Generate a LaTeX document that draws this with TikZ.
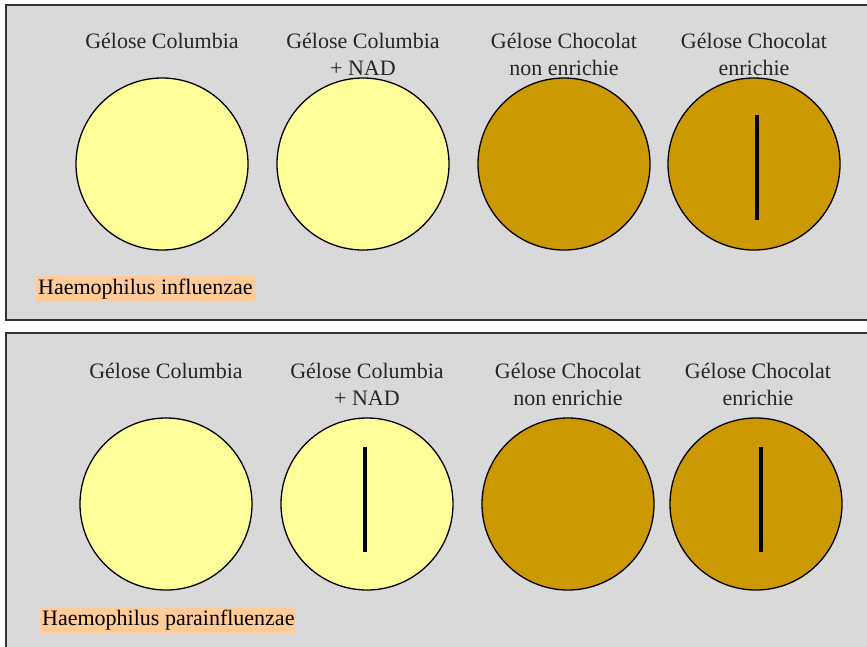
\documentclass[tikz,border=0pt]{standalone}
\usepackage{fontspec}
\setmainfont{Liberation Serif}
\definecolor{panelgray}{HTML}{D9D9D9}
\definecolor{paleyellow}{HTML}{FFFF99}
\definecolor{choco}{HTML}{CC9900}
\definecolor{peach}{HTML}{FFCC99}
\tikzset{
  panel/.style={draw=black!80, line width=1.6pt, fill=panelgray},
  plate/.style={circle, draw=black, line width=1.3pt, minimum size=172pt, inner sep=0pt},
  bar/.style={rectangle, fill=black, minimum width=4pt, minimum height=105pt, inner sep=0pt},
  lbl/.style={align=center, font=\fontsize{22}{27}\selectfont, text=black!85},
  species/.style={fill=peach, font=\fontsize{22}{24}\selectfont, inner xsep=2pt, inner ysep=3pt, anchor=west}
}
\begin{document}
\begin{tikzpicture}[x=1pt,y=-1pt]
\useasboundingbox (0,0) rectangle (867,646);
% panels
\path[panel] (6,5) rectangle (875,320);
\path[panel] (6,333) rectangle (875,655);
% top panel
\node[lbl] (t1) at (162,41) {Gélose Columbia};
\node[lbl] (t2) at (363,54) {Gélose Columbia\\+ NAD};
\node[lbl] (t3) at (564,54) {Gélose Chocolat\\non enrichie};
\node[lbl] (t4) at (754,54) {Gélose Chocolat\\enrichie};
\node[plate, fill=paleyellow] (a1) at (162,164) {};
\node[plate, fill=paleyellow] (a2) at (363,164) {};
\node[plate, fill=choco] (a3) at (564,164) {};
\node[plate, fill=choco] (a4) at (754,164) {};
\node[bar] (ba4) at (757,167) {};
\node[species] (s1) at (36,289) {Haemophilus influenzae};
% bottom panel
\node[lbl] (u1) at (166,371) {Gélose Columbia};
\node[lbl] (u2) at (367,384) {Gélose Columbia\\+ NAD};
\node[lbl] (u3) at (568,384) {Gélose Chocolat\\non enrichie};
\node[lbl] (u4) at (758,384) {Gélose Chocolat\\enrichie};
\node[plate, fill=paleyellow] (b1) at (166,504) {};
\node[plate, fill=paleyellow] (b2) at (367,504) {};
\node[plate, fill=choco] (b3) at (568,504) {};
\node[plate, fill=choco] (b4) at (756,504) {};
\node[bar] (bb2) at (365,499) {};
\node[bar] (bb4) at (761,499) {};
\node[species] (s2) at (40,620) {Haemophilus parainfluenzae};
\end{tikzpicture}
\end{document}
